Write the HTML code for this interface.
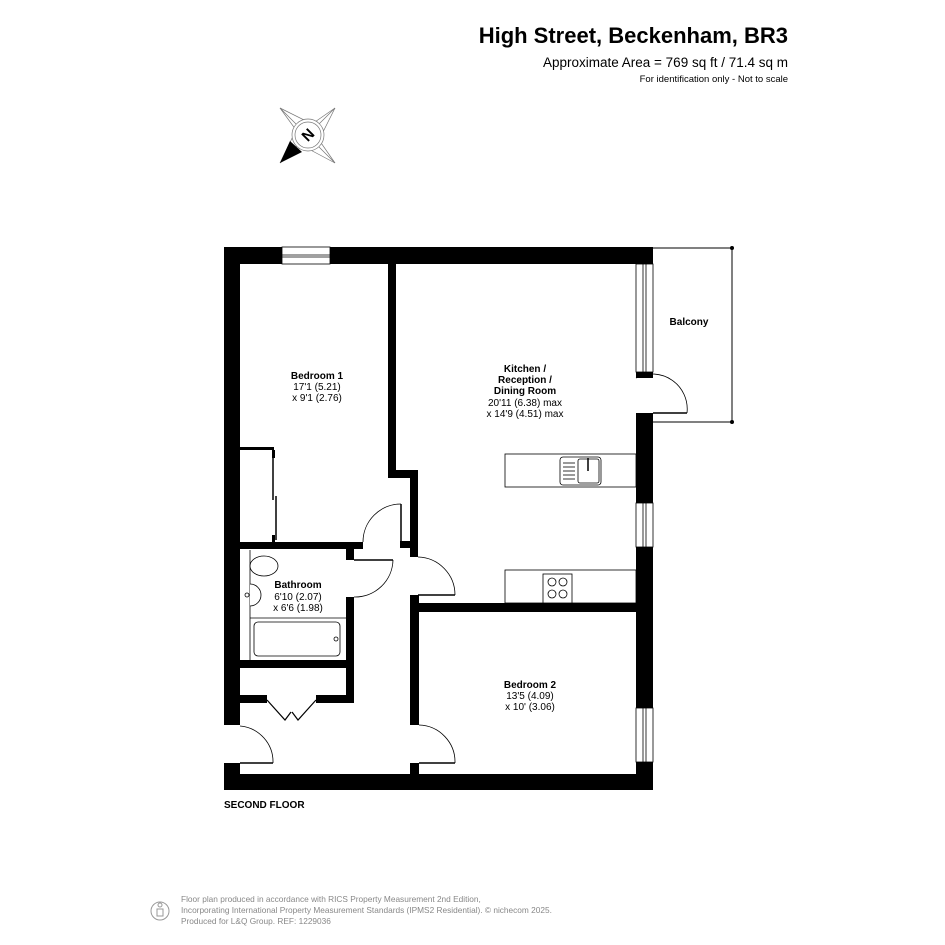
<!DOCTYPE html>
<html><head><meta charset="utf-8"><style>
html,body{margin:0;padding:0;background:#fff;}
svg{display:block;}
text{font-family:"Liberation Sans",Arial,sans-serif;}
</style></head><body>
<svg width="945" height="945" viewBox="0 0 945 945" xmlns="http://www.w3.org/2000/svg">
<rect width="945" height="945" fill="#fff"/>
<text x="788" y="43" font-size="22" font-weight="bold" text-anchor="end" fill="#000">High Street, Beckenham, BR3</text>
<text x="788" y="67" font-size="13.5" text-anchor="end" fill="#000">Approximate Area = 769 sq ft / 71.4 sq m</text>
<text x="788" y="82" font-size="9.5" text-anchor="end" fill="#000">For identification only - Not to scale</text>

<!-- compass -->
<g stroke="#777" stroke-width="0.7" fill="none">
<polygon points="280,108 312,124 335,108 319,140 335,163 303,146 280,163 296,130"/>
<line x1="280" y1="108" x2="335" y2="163"/>
<line x1="335" y1="108" x2="280" y2="163"/>
<circle cx="308" cy="135" r="16" fill="#fff"/>
<circle cx="308" cy="135" r="13"/>
</g>
<polygon points="280,163 290,141 302,152" fill="#000"/>
<text x="308" y="140" font-size="15" font-weight="bold" text-anchor="middle" transform="rotate(-45 308 135)">N</text>

<g stroke="#000" stroke-width="1" fill="none">
<line x1="653" y1="248" x2="732" y2="248"/>
<line x1="732" y1="248" x2="732" y2="422"/>
<line x1="653" y1="422" x2="732" y2="422"/>
</g>
<circle cx="732" cy="248" r="2" fill="#000"/>
<circle cx="732" cy="422" r="2" fill="#000"/>

<g fill="#000">
<rect x="224" y="247" width="58" height="17"/>
<rect x="330" y="247" width="323" height="17"/>
<rect x="224" y="247" width="16" height="478"/>
<rect x="224" y="763" width="16" height="27"/>
<rect x="224" y="774" width="429" height="16"/>
<rect x="636" y="372" width="17" height="6"/>
<rect x="636" y="413" width="17" height="90"/>
<rect x="636" y="547" width="17" height="161"/>
<rect x="636" y="762" width="17" height="28"/>
<rect x="388" y="264" width="8" height="214"/>
<rect x="388" y="470" width="30" height="8"/>
<rect x="410" y="470" width="8" height="87"/>
<rect x="400" y="541" width="18" height="7"/>
<rect x="240" y="542" width="123" height="7"/>
<rect x="346" y="542" width="8" height="18"/>
<rect x="346" y="597" width="8" height="106"/>
<rect x="240" y="660" width="114" height="8"/>
<rect x="240" y="695" width="27" height="8"/>
<rect x="316" y="695" width="38" height="8"/>
<rect x="410" y="595" width="9" height="130"/>
<rect x="410" y="763" width="9" height="12"/>
<rect x="410" y="603" width="226" height="9"/>
<rect x="240" y="447" width="34" height="3"/>
<rect x="272" y="450" width="3" height="8"/>
<rect x="272" y="535" width="3" height="8"/>
</g>

<g stroke="#000" stroke-width="0.8" fill="#fff">
<rect x="282" y="247" width="48" height="17"/>
<line x1="282" y1="255" x2="330" y2="255"/>
<line x1="282" y1="257" x2="330" y2="257"/>
<rect x="636" y="264" width="17" height="108"/>
<line x1="643" y1="264" x2="643" y2="372"/>
<line x1="646" y1="264" x2="646" y2="372"/>
<rect x="636" y="503" width="17" height="44"/>
<line x1="643" y1="503" x2="643" y2="547"/>
<line x1="646" y1="503" x2="646" y2="547"/>
<rect x="636" y="708" width="17" height="54"/>
<line x1="643" y1="708" x2="643" y2="762"/>
<line x1="646" y1="708" x2="646" y2="762"/>
</g>

<g stroke="#000" stroke-width="1.5">
<line x1="273" y1="455" x2="273" y2="500"/>
<line x1="276" y1="496" x2="276" y2="540"/>
</g>

<g stroke="#000" stroke-width="0.8" fill="none">
<line x1="653" y1="413" x2="687" y2="413" stroke-width="1.5"/>
<path d="M636,378 A35,35 0 0 1 687,413"/>
<line x1="401" y1="504" x2="401" y2="542" stroke-width="1.5"/>
<path d="M401,504 A38,38 0 0 0 363,542"/>
<line x1="354" y1="560" x2="393" y2="560" stroke-width="1.5"/>
<path d="M393,560 A38,38 0 0 1 354,597"/>
<line x1="418" y1="595" x2="455" y2="595" stroke-width="1.5"/>
<path d="M418,557 A38,38 0 0 1 455,595"/>
<line x1="419" y1="763" x2="455" y2="763" stroke-width="1.5"/>
<path d="M419,725 A37,37 0 0 1 455,763"/>
<line x1="240" y1="763" x2="273" y2="763" stroke-width="1.5"/>
<path d="M240,726 A36,36 0 0 1 273,763"/>
<polyline points="267,700 285,720 291,712" stroke-width="1.2"/>
<polyline points="316,700 298,720 292,712" stroke-width="1.2"/>
</g>

<g stroke="#000" stroke-width="0.8" fill="#fff">
<line x1="250" y1="550" x2="250" y2="660"/>
<line x1="250" y1="618" x2="346" y2="618"/>
<ellipse cx="264" cy="566" rx="14" ry="10"/>
<path d="M250,584 A11,11 0 0 1 250,606"/>
<rect x="254" y="622" width="86" height="34" rx="4"/>
<circle cx="336" cy="639" r="2"/>
<circle cx="247" cy="595" r="2"/>
</g>

<g stroke="#000" stroke-width="0.8" fill="#fff">
<rect x="505" y="454" width="131" height="33"/>
<rect x="560" y="457" width="41" height="28" rx="3"/>
<rect x="578" y="459" width="21" height="24" rx="2"/>
<line x1="563" y1="463" x2="575" y2="463"/>
<line x1="563" y1="467" x2="575" y2="467"/>
<line x1="563" y1="471" x2="575" y2="471"/>
<line x1="563" y1="475" x2="575" y2="475"/>
<line x1="563" y1="479" x2="575" y2="479"/>
<line x1="588" y1="458" x2="588" y2="471" stroke-width="1.5"/>
<rect x="505" y="570" width="131" height="33"/>
<rect x="543" y="574" width="29" height="29"/>
<circle cx="552" cy="582" r="4"/>
<circle cx="563" cy="582" r="4"/>
<circle cx="552" cy="594" r="4"/>
<circle cx="563" cy="594" r="4"/>
</g>

<g font-size="10" text-anchor="middle" fill="#000">
<text x="317" y="379" font-weight="bold">Bedroom 1</text>
<text x="317" y="390">17'1 (5.21)</text>
<text x="317" y="401">x 9'1 (2.76)</text>
<text x="525" y="372" font-weight="bold">Kitchen /</text>
<text x="525" y="383" font-weight="bold">Reception /</text>
<text x="525" y="394" font-weight="bold">Dining Room</text>
<text x="525" y="406">20'11 (6.38) max</text>
<text x="525" y="417">x 14'9 (4.51) max</text>
<text x="689" y="325" font-weight="bold">Balcony</text>
<text x="298" y="588" font-weight="bold">Bathroom</text>
<text x="298" y="600">6'10 (2.07)</text>
<text x="298" y="611">x 6'6 (1.98)</text>
<text x="530" y="688" font-weight="bold">Bedroom 2</text>
<text x="530" y="699">13'5 (4.09)</text>
<text x="530" y="710">x 10' (3.06)</text>
</g>
<text x="224" y="808" font-size="10" font-weight="bold" fill="#000">SECOND FLOOR</text>

<g stroke="#999" stroke-width="1" fill="none">
<circle cx="160" cy="911" r="9"/>
<circle cx="160" cy="905" r="2"/>
<path d="M157,909 L157,916 L163,916 L163,909 Z"/>
</g>
<g font-size="8.3" fill="#888">
<text x="181" y="902">Floor plan produced in accordance with RICS Property Measurement 2nd Edition,</text>
<text x="181" y="913">Incorporating International Property Measurement Standards (IPMS2 Residential).   © nichecom 2025.</text>
<text x="181" y="924">Produced for L&amp;Q Group.   REF:    1229036</text>
</g>
</svg>
</body></html>
